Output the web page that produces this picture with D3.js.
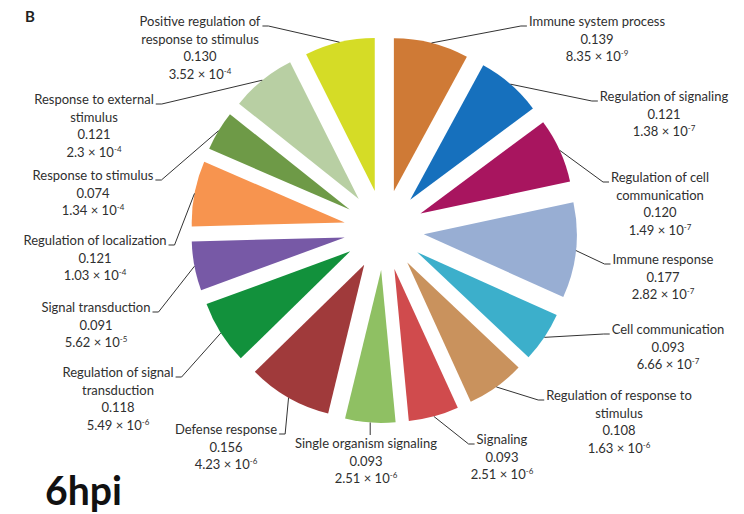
<!DOCTYPE html>
<html>
<head>
<meta charset="utf-8">
<script src="https://cdn.jsdelivr.net/npm/d3@7/dist/d3.min.js"></script>
<style>
  body { margin: 0; background: #fff; }
  text { font-family: Lato, "Open Sans", sans-serif; }
</style>
</head>
<body>
<svg id="chart" width="744" height="514"></svg>
<script>
// GO terms (clockwise from 12 o'clock), their shares and p-values
const categories = [
  "Immune system process",
  "Regulation of signaling",
  "Regulation of cell\ncommunication",
  "Immune response",
  "Cell communication",
  "Regulation of response to\nstimulus",
  "Signaling",
  "Single organism signaling",
  "Defense response",
  "Regulation of signal\ntransduction",
  "Signal transduction",
  "Regulation of localization",
  "Response to stimulus",
  "Response to external\nstimulus",
  "Positive regulation of\nresponse to stimulus"
];
const values = [0.139, 0.121, 0.120, 0.177, 0.093, 0.108, 0.093, 0.093,
                0.156, 0.118, 0.091, 0.121, 0.074, 0.121, 0.130];
const pMantissa = ["8.35", "1.38", "1.49", "2.82", "6.66", "1.63", "2.51", "2.51",
                   "4.23", "5.49", "5.62", "1.03", "1.34", "2.3", "3.52"];
const pExponent = [-9, -7, -7, -7, -7, -6, -6, -6, -6, -6, -5, -4, -4, -4, -4];

const colors = ["#cf7a36", "#1670bd", "#a8155f", "#98aed3", "#3cafcb",
                "#c9925d", "#d04b4d", "#8fc063", "#a03a3b", "#12913c",
                "#7759a6", "#f7944f", "#6e9a47", "#b8cfa3", "#d5dc26"];

// label block placement: centre x, first-line centre y, side the leader leaves from
const labelLayout = [
  [597, 22, "right"], [664, 97, "right"], [660, 178, "right"], [663, 260, "right"],
  [668, 330, "right"], [619, 396, "right"], [502, 440, "right"], [366, 444, "below"],
  [226, 430, "left"], [118, 373, "left"], [96, 308, "left"], [95, 241, "left"],
  [93, 176, "left"], [94, 100, "left"], [200, 22, "left"]
];

const svg = d3.select("#chart");
const cx = 384, cy = 230, R = 153, explode = 40, lineH = 17.5;

const pie = d3.pie().sort(null).value(d => d.value);
const arc = d3.arc().innerRadius(0).outerRadius(R);
const data = categories.map((c, i) => ({ name: c, value: values[i], i }));
const arcs = pie(data);

const dir = a => [Math.sin(a), -Math.cos(a)];

const g = svg.append("g").attr("transform", `translate(${cx},${cy})`);
g.selectAll("path.slice").data(arcs).join("path")
  .attr("class", "slice")
  .attr("d", arc)
  .attr("fill", d => colors[d.data.i])
  .attr("transform", d => {
    const m = (d.startAngle + d.endAngle) / 2, [ux, uy] = dir(m);
    return `translate(${ux * explode},${uy * explode})`;
  });

// labels
const labels = svg.append("g").attr("fill", "#2f2f2f").attr("font-size", 13);
arcs.forEach(d => {
  const i = d.data.i;
  const [lx, ly, side] = labelLayout[i];
  const lines = d.data.name.split("\n");
  const t = labels.append("text").attr("text-anchor", "middle");
  lines.forEach((ln, k) => {
    t.append("tspan").attr("x", lx).attr("y", ly + 4 + k * lineH).text(ln);
  });
  t.append("tspan").attr("x", lx).attr("y", ly + 4 + lines.length * lineH)
    .text(d3.format(".3f")(d.data.value));
  const py = ly + 4 + (lines.length + 1) * lineH;
  t.append("tspan").attr("x", lx).attr("y", py)
    .text(`${pMantissa[i]} \u00d7 10`);
  t.append("tspan").attr("dy", -5).attr("font-size", 8).text(`${pExponent[i]}`);

  // leader line from the label to the middle of the slice's outer arc
  const m = (d.startAngle + d.endAngle) / 2, [ux, uy] = dir(m);
  const ax = cx + ux * (explode + R), ay = cy + uy * (explode + R);
  const firstLen = t.select("tspan").node().getComputedTextLength();
  let pts;
  if (side === "left") {
    const sx = lx + firstLen / 2 + 2, sy = ly + 4;
    pts = [[sx, sy], [sx + 6, sy], [ax, ay]];
  } else if (side === "right") {
    const sx = lx - firstLen / 2 - 2, sy = ly + 4;
    pts = [[sx, sy], [sx - 6, sy], [ax, ay]];
  } else {
    pts = [[ax, ay], [ax, ly - 9]];
  }
  svg.append("path")
    .attr("d", d3.line()(pts))
    .attr("fill", "none").attr("stroke", "#333").attr("stroke-width", 1);
});

svg.append("text").attr("x", 25).attr("y", 22)
  .attr("font-family", "Liberation Sans, Arial, sans-serif")
  .attr("font-weight", "bold").attr("font-size", 15).attr("fill", "#222")
  .text("B");

svg.append("text").attr("x", 45).attr("y", 505)
  .attr("font-family", "Lato, sans-serif")
  .attr("font-weight", "bold").attr("font-size", 40).attr("fill", "#111")
  .attr("textLength", 77).attr("lengthAdjust", "spacingAndGlyphs")
  .text("6hpi");
</script>
</body>
</html>
